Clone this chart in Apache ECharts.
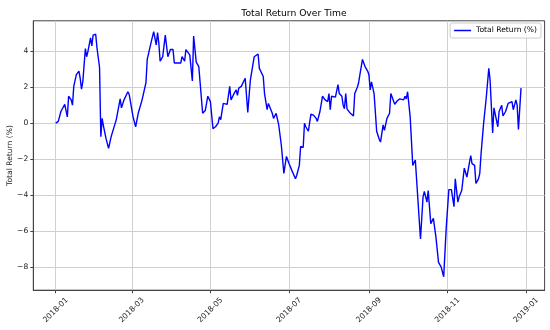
<!DOCTYPE html>
<html><head><meta charset="utf-8">
<script src="https://cdn.jsdelivr.net/npm/echarts@6/dist/echarts.min.js"></script>
<style>html,body{margin:0;padding:0;background:#fff}#c{width:550px;height:330px}</style>
</head><body><div id="c"></div>
<script>
const titleText = "Total Return Over Time";
const seriesName = "Total Return (%)";
const yAxisName = "Total Return (%)";
const xTickLabels = ["2018-01","2018-03","2018-05","2018-07","2018-09","2018-11","2019-01"];
const yTicks = [-8,-6,-4,-2,0,2,4];

const dates = [
"2018-01-01","2018-01-03","2018-01-05","2018-01-08","2018-01-09","2018-01-10","2018-01-11","2018-01-13","2018-01-14","2018-01-15",
"2018-01-17","2018-01-19","2018-01-20","2018-01-21","2018-01-22","2018-01-23","2018-01-24","2018-01-25","2018-01-26","2018-01-28",
"2018-01-29","2018-01-30","2018-02-01","2018-02-02","2018-02-04","2018-02-05","2018-02-06","2018-02-07","2018-02-09","2018-02-11",
"2018-02-13","2018-02-17","2018-02-20","2018-02-21","2018-02-23","2018-02-26","2018-02-27","2018-03-02","2018-03-04","2018-03-06",
"2018-03-07","2018-03-09","2018-03-12","2018-03-13","2018-03-14","2018-03-16","2018-03-18","2018-03-20","2018-03-21","2018-03-22",
"2018-03-23","2018-03-25","2018-03-27","2018-03-29","2018-03-31","2018-04-02","2018-04-03","2018-04-08","2018-04-09","2018-04-11",
"2018-04-12","2018-04-13","2018-04-15","2018-04-17","2018-04-18","2018-04-20","2018-04-22","2018-04-25","2018-04-27","2018-04-29",
"2018-05-01","2018-05-03","2018-05-05","2018-05-07","2018-05-08","2018-05-09","2018-05-11","2018-05-14","2018-05-15","2018-05-16",
"2018-05-17","2018-05-19","2018-05-21","2018-05-22","2018-05-23","2018-05-24","2018-05-25","2018-05-26","2018-05-28","2018-05-30",
"2018-06-01","2018-06-04","2018-06-05","2018-06-07","2018-06-08","2018-06-11","2018-06-12","2018-06-14","2018-06-15","2018-06-18",
"2018-06-19","2018-06-21","2018-06-23","2018-06-25","2018-06-27","2018-06-29","2018-07-01","2018-07-03","2018-07-04","2018-07-06",
"2018-07-07","2018-07-09","2018-07-10","2018-07-12","2018-07-13","2018-07-14","2018-07-16","2018-07-18","2018-07-20","2018-07-22",
"2018-07-23","2018-07-25","2018-07-27","2018-07-29","2018-07-31","2018-08-01","2018-08-02","2018-08-03","2018-08-06","2018-08-07",
"2018-08-08","2018-08-09","2018-08-11","2018-08-12","2018-08-13","2018-08-14","2018-08-15","2018-08-17","2018-08-20","2018-08-21",
"2018-08-23","2018-08-24","2018-08-25","2018-08-27","2018-08-29","2018-08-31","2018-09-01","2018-09-02","2018-09-03","2018-09-05",
"2018-09-07","2018-09-09","2018-09-10","2018-09-12","2018-09-13","2018-09-15","2018-09-17","2018-09-18","2018-09-19","2018-09-21",
"2018-09-23","2018-09-25","2018-09-26","2018-09-28","2018-09-29","2018-09-30","2018-10-01","2018-10-03","2018-10-04","2018-10-05",
"2018-10-07","2018-10-08","2018-10-11","2018-10-13","2018-10-14","2018-10-15","2018-10-16","2018-10-17","2018-10-19","2018-10-21",
"2018-10-23","2018-10-24","2018-10-25","2018-10-27","2018-10-29","2018-10-31","2018-11-02","2018-11-04","2018-11-06","2018-11-07",
"2018-11-09","2018-11-10","2018-11-12","2018-11-14","2018-11-15","2018-11-16","2018-11-18","2018-11-19","2018-11-20","2018-11-22",
"2018-11-23","2018-11-25","2018-11-26","2018-11-27","2018-11-29","2018-12-01","2018-12-03","2018-12-04","2018-12-06","2018-12-07",
"2018-12-10","2018-12-11","2018-12-13","2018-12-14","2018-12-16","2018-12-18","2018-12-19","2018-12-21","2018-12-22","2018-12-24",
"2018-12-25","2018-12-26","2018-12-28"
];

const returns = [
0.0,0.1,0.65,1.05,1.1,0.35,1.5,1.3,1.0,2.05,
2.7,2.9,2.5,1.9,2.3,2.2,4.15,3.7,4.0,4.75,
4.3,4.9,4.95,4.2,3.1,-0.75,0.27,-0.15,-0.85,-1.4,
-0.75,0.2,1.35,0.85,1.3,1.75,1.6,0.35,-0.2,0.55,
0.45,1.3,2.25,3.55,3.6,4.5,5.1,4.35,5.05,4.45,
3.45,3.7,4.9,3.7,4.1,4.1,3.35,3.35,3.7,3.45,
4.1,4.05,3.8,2.35,4.85,3.4,3.15,0.55,0.7,1.5,
1.2,-0.3,-0.2,0.0,0.35,0.2,1.1,1.05,0.95,2.05,
1.3,1.6,1.85,1.55,1.95,1.85,2.05,2.15,2.5,0.6,
2.4,3.7,3.6,3.85,3.05,2.6,1.65,0.75,1.1,0.55,
0.27,0.55,-0.1,-1.2,-2.8,-1.85,-2.25,-2.6,-2.5,-3.1,
-2.9,-2.35,-1.3,-1.35,0.0,-0.2,-0.45,0.5,0.45,0.27,
0.1,0.65,1.5,1.3,1.2,1.65,0.75,1.5,1.45,1.35,
2.15,1.65,1.5,1.0,0.8,1.65,0.8,0.6,0.4,1.65,
2.0,2.25,2.7,3.55,3.15,2.9,2.7,1.85,2.3,1.65,
-0.45,-0.9,-1.05,-0.1,-0.4,0.27,0.55,1.65,1.7,1.05,
1.25,1.35,1.45,1.3,1.5,1.35,1.75,0.35,0.27,-2.35,
-2.05,-2.0,-6.45,-4.1,-3.8,-3.9,-4.4,-3.75,-5.6,-5.3,
-6.35,-6.3,-7.75,-8.0,-8.55,-5.8,-3.7,-3.7,-4.65,-3.1,
-4.4,-4.1,-3.75,-2.5,-2.45,-3.0,-2.2,-1.8,-2.25,-2.35,
-3.35,-3.1,-2.8,-1.7,0.0,1.4,3.05,2.4,-0.55,0.85,
-0.2,0.65,1.0,0.4,0.65,1.1,1.0,1.2,0.75,1.3,
1.0,-0.35,1.95
];

function utc(s){const p=s.split('-').map(Number);return Date.UTC(p[0],p[1]-1,p[2]||1);}
const DAY=864e5;
const t0=Date.UTC(2018,0,1);
const xMin=t0-17.4*DAY, xMax=t0+379.3*DAY;
const xTickVals=xTickLabels.map(utc);
const data=dates.map((d,i)=>[utc(d),returns[i]]);
const FONT='DejaVu Sans';
const spine='#444', gridC='#d0d0d0';

function xFmt(v){const d=new Date(v);const m=d.getUTCMonth()+1;return d.getUTCFullYear()+'-'+(m<10?'0':'')+m;}
function yFmt(v){return String(v).replace('-','\u2212');}

const chart=echarts.init(document.getElementById('c'),null,{renderer:'canvas'});
chart.setOption({
  animation:false,
  backgroundColor:'#fff',
  title:{text:titleText,left:289,top:4,textAlign:'center',
    textStyle:{fontFamily:FONT,fontSize:9.2,fontWeight:'normal',color:'#000'}},
  legend:{data:[{name:seriesName,icon:'rect'}],right:9,top:23,padding:[3,4],itemWidth:17,itemHeight:1.5,itemGap:5,
    borderColor:'#ccc',borderWidth:1,borderRadius:2,backgroundColor:'rgba(255,255,255,0.8)',
    textStyle:{fontFamily:FONT,fontSize:7.6,color:'#000',lineHeight:9}},
  grid:{left:33.3,right:5.4,top:20.8,bottom:39.8,show:true,borderColor:spine,borderWidth:1,
    backgroundColor:'transparent',containLabel:false,outerBoundsMode:'none'},
  xAxis:{type:'value',min:xMin,max:xMax,
    axisLine:{show:true,onZero:false,lineStyle:{color:spine,width:1}},
    axisTick:{show:true,customValues:xTickVals,length:3,lineStyle:{color:spine}},
    axisLabel:{customValues:xTickVals,formatter:xFmt,rotate:45,align:'center',verticalAlign:'middle',margin:20,
      fontFamily:FONT,fontSize:7.6,color:'#222'},
    splitLine:{show:true,lineStyle:{color:gridC,width:1}}},
  yAxis:{type:'value',min:-9.3,max:5.7,name:yAxisName,nameLocation:'middle',nameGap:19,nameMoveOverlap:false,
    nameTextStyle:{fontFamily:FONT,fontSize:7.6,color:'#222'},
    axisLine:{show:true,onZero:false,lineStyle:{color:spine,width:1}},
    axisTick:{show:true,customValues:yTicks,length:3,lineStyle:{color:spine}},
    axisLabel:{customValues:yTicks,formatter:yFmt,margin:5,fontFamily:FONT,fontSize:7.6,color:'#222'},
    splitLine:{show:true,lineStyle:{color:gridC,width:1}}},
  series:[{name:seriesName,type:'line',data:data,symbol:'none',showSymbol:false,
    lineStyle:{color:'#0000ff',width:1.4},itemStyle:{color:'#0000ff'}}]
});
</script></body></html>
